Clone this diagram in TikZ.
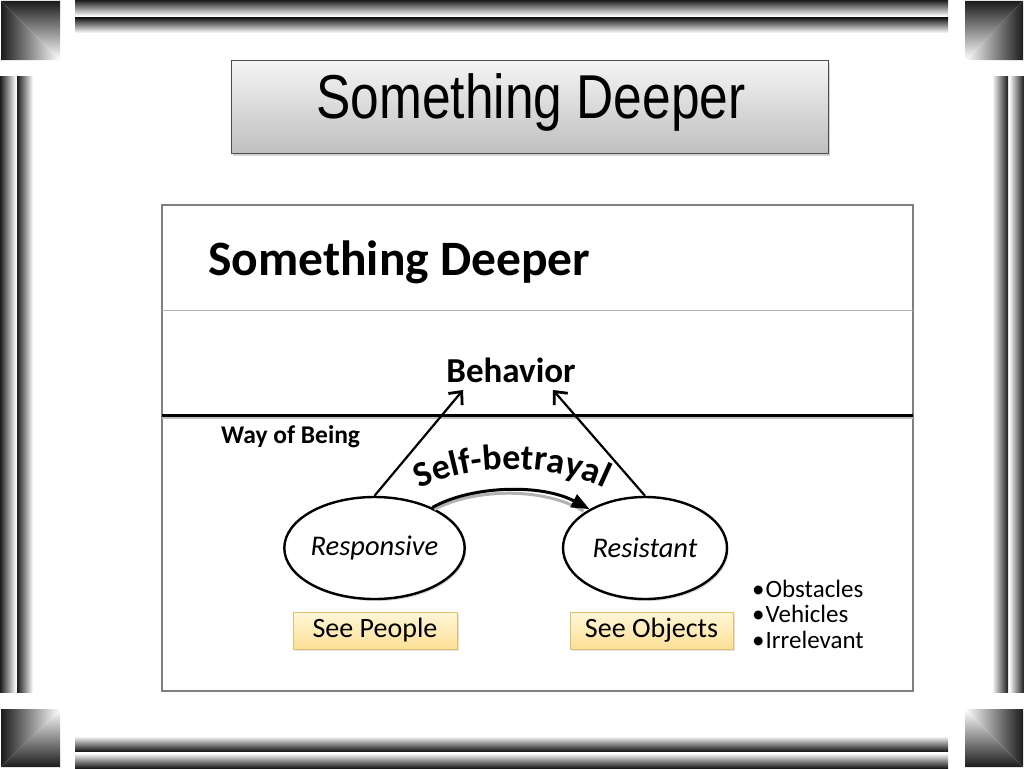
\documentclass[tikz,border=0pt]{standalone}
\usepackage{fontspec}
\setmainfont{Carlito}
\newfontfamily\titlefont{Liberation Sans}
\usetikzlibrary{shapes.geometric,arrows.meta,shadows,decorations.text}
\definecolor{dk}{HTML}{1c1c1c}
\definecolor{boxtop}{HTML}{FFF7D8}
\definecolor{boxbot}{HTML}{FCDF96}
\definecolor{boxline}{HTML}{E2C070}
\definecolor{framegray}{HTML}{7F7F7F}
\begin{document}
\begin{tikzpicture}[x=1pt,y=-1pt,
  titlebox/.style={draw=black!70, line width=1pt, top color=black!4, bottom color=black!25,
     minimum width=597pt, minimum height=93pt, inner sep=0pt,
     drop shadow={shadow xshift=2pt, shadow yshift=-3pt, opacity=0.35}},
  oval/.style={ellipse, draw=black, line width=2.4pt, fill=white, inner sep=0pt,
     minimum height=102pt, font=\fontsize{28.5}{32}\selectfont\itshape,
     drop shadow={shadow xshift=1.5pt, shadow yshift=-2pt, opacity=0.35}},
  ybox/.style={draw=boxline, line width=0.8pt, top color=boxtop, bottom color=boxbot,
     minimum height=37pt, inner sep=0pt, font=\fontsize{28}{32}\selectfont,
     drop shadow={shadow xshift=2pt, shadow yshift=-2pt, opacity=0.25}},
  uparrow/.style={draw=black, line width=2.2pt, -{Straight Barb[length=10pt,width=18pt,line width=2.8pt]}},
  bul/.style={anchor=base west, inner sep=0pt, font=\fontsize{25}{29}\selectfont}
]
\useasboundingbox (0,0) rectangle (1024,768);
% ---------- bevelled frame ----------
\shade[top color=dk, bottom color=white] (1,1) -- (60,1) -- (60,60) -- cycle;
\shade[left color=dk, right color=white] (1,1) -- (1,60) -- (60,60) -- cycle;
\shade[top color=dk, bottom color=white] (965,1) -- (1023,1) -- (965,60) -- cycle;
\shade[left color=white, right color=dk] (1023,1) -- (1023,60) -- (965,60) -- cycle;
\shade[left color=dk, right color=white] (1,709) -- (60,709) -- (1,767) -- cycle;
\shade[top color=white, bottom color=dk] (60,709) -- (60,767) -- (1,767) -- cycle;
\shade[left color=white, right color=dk] (965,709) -- (1023,709) -- (1023,767) -- cycle;
\shade[top color=white, bottom color=dk] (965,709) -- (965,767) -- (1023,767) -- cycle;
\shade[top color=dk, bottom color=white] (75,0) rectangle (948,16);
\shade[top color=dk, bottom color=white] (75,18) rectangle (948,33);
\shade[top color=white, bottom color=dk] (75,736) rectangle (948,751);
\shade[top color=white, bottom color=dk] (75,753) rectangle (948,768);
\shade[left color=dk, right color=white] (0,76) rectangle (16,692);
\shade[left color=dk, right color=white] (17,76) rectangle (33,692);
\shade[left color=white, right color=dk] (992,76) rectangle (1008,692);
\shade[left color=white, right color=dk] (1009,76) rectangle (1024,692);
% ---------- title ----------
\node[titlebox] (title) at (529.5,106.5) {};
\node[anchor=base, inner sep=0pt] (titletext) at (531,118)
  {\titlefont\fontsize{62}{70}\selectfont\scalebox{0.83}[1]{Something Deeper}};
% ---------- embedded slide ----------
\draw[framegray, line width=1.3pt] (162,205) rectangle (913,691);
\node[anchor=base west, inner sep=0pt] (heading) at (208,275)
  {\fontsize{49.5}{56}\selectfont\bfseries Something Deeper};
\draw[black!30, line width=1pt] (162,310) -- (913,310);
\draw[black!25, line width=2.5pt] (162,418) -- (913,418);
\draw[black, line width=2.2pt] (162,415.5) -- (913,415.5);
\node[anchor=base, inner sep=1pt] (behavior) at (511,382)
  {\fontsize{35}{40}\selectfont\bfseries Behavior};
\node[anchor=base west, inner sep=0pt] (way) at (221,443)
  {\fontsize{25.5}{30}\selectfont\bfseries Way of Being};
% ellipses
\node[oval, minimum width=175pt] (resp) at (374.5,548) {Responsive};
\node[oval, minimum width=164pt] (resist) at (645,548) {Resistant};
% arrows to behavior
\coordinate (b1) at (463,390);
\coordinate (b2) at (553,390);
\draw[uparrow] (resp.north) -- (b1);
\draw[uparrow] (resist.north) -- (b2);
% self-betrayal text on an arc
\path[decorate, decoration={text along path, text align=center,
   text format delimiters={|}{|},
   text={|\fontsize{36}{40}\selectfont\bfseries|Self-betrayal}}]
   (411,493) .. controls (465,462) and (555,460) .. (613,493);
% self-betrayal arrow
\draw[black!30, line width=3pt] ([xshift=2pt,yshift=-2pt]resp.35) .. controls (472,489) and (542,486) .. ([xshift=-6pt,yshift=-2pt]resist.145);
\draw[black, line width=3pt, -{Triangle[length=18pt,width=14pt]}] (resp.35) .. controls (470,486) and (540,483) .. (resist.145);
% yellow boxes
\node[ybox, minimum width=164pt] (seepeople) at (375,630.5) {See People};
\node[ybox, minimum width=163pt] (seeobjects) at (651.5,630.5) {See Objects};
% bullets
\node[bul] (bul1) at (752,597) {\textbullet\hspace{1pt}Obstacles};
\node[bul] (bul2) at (752,622.5) {\textbullet\hspace{1pt}Vehicles};
\node[bul] (bul3) at (752,648) {\textbullet\hspace{1pt}Irrelevant};
\end{tikzpicture}
\end{document}
